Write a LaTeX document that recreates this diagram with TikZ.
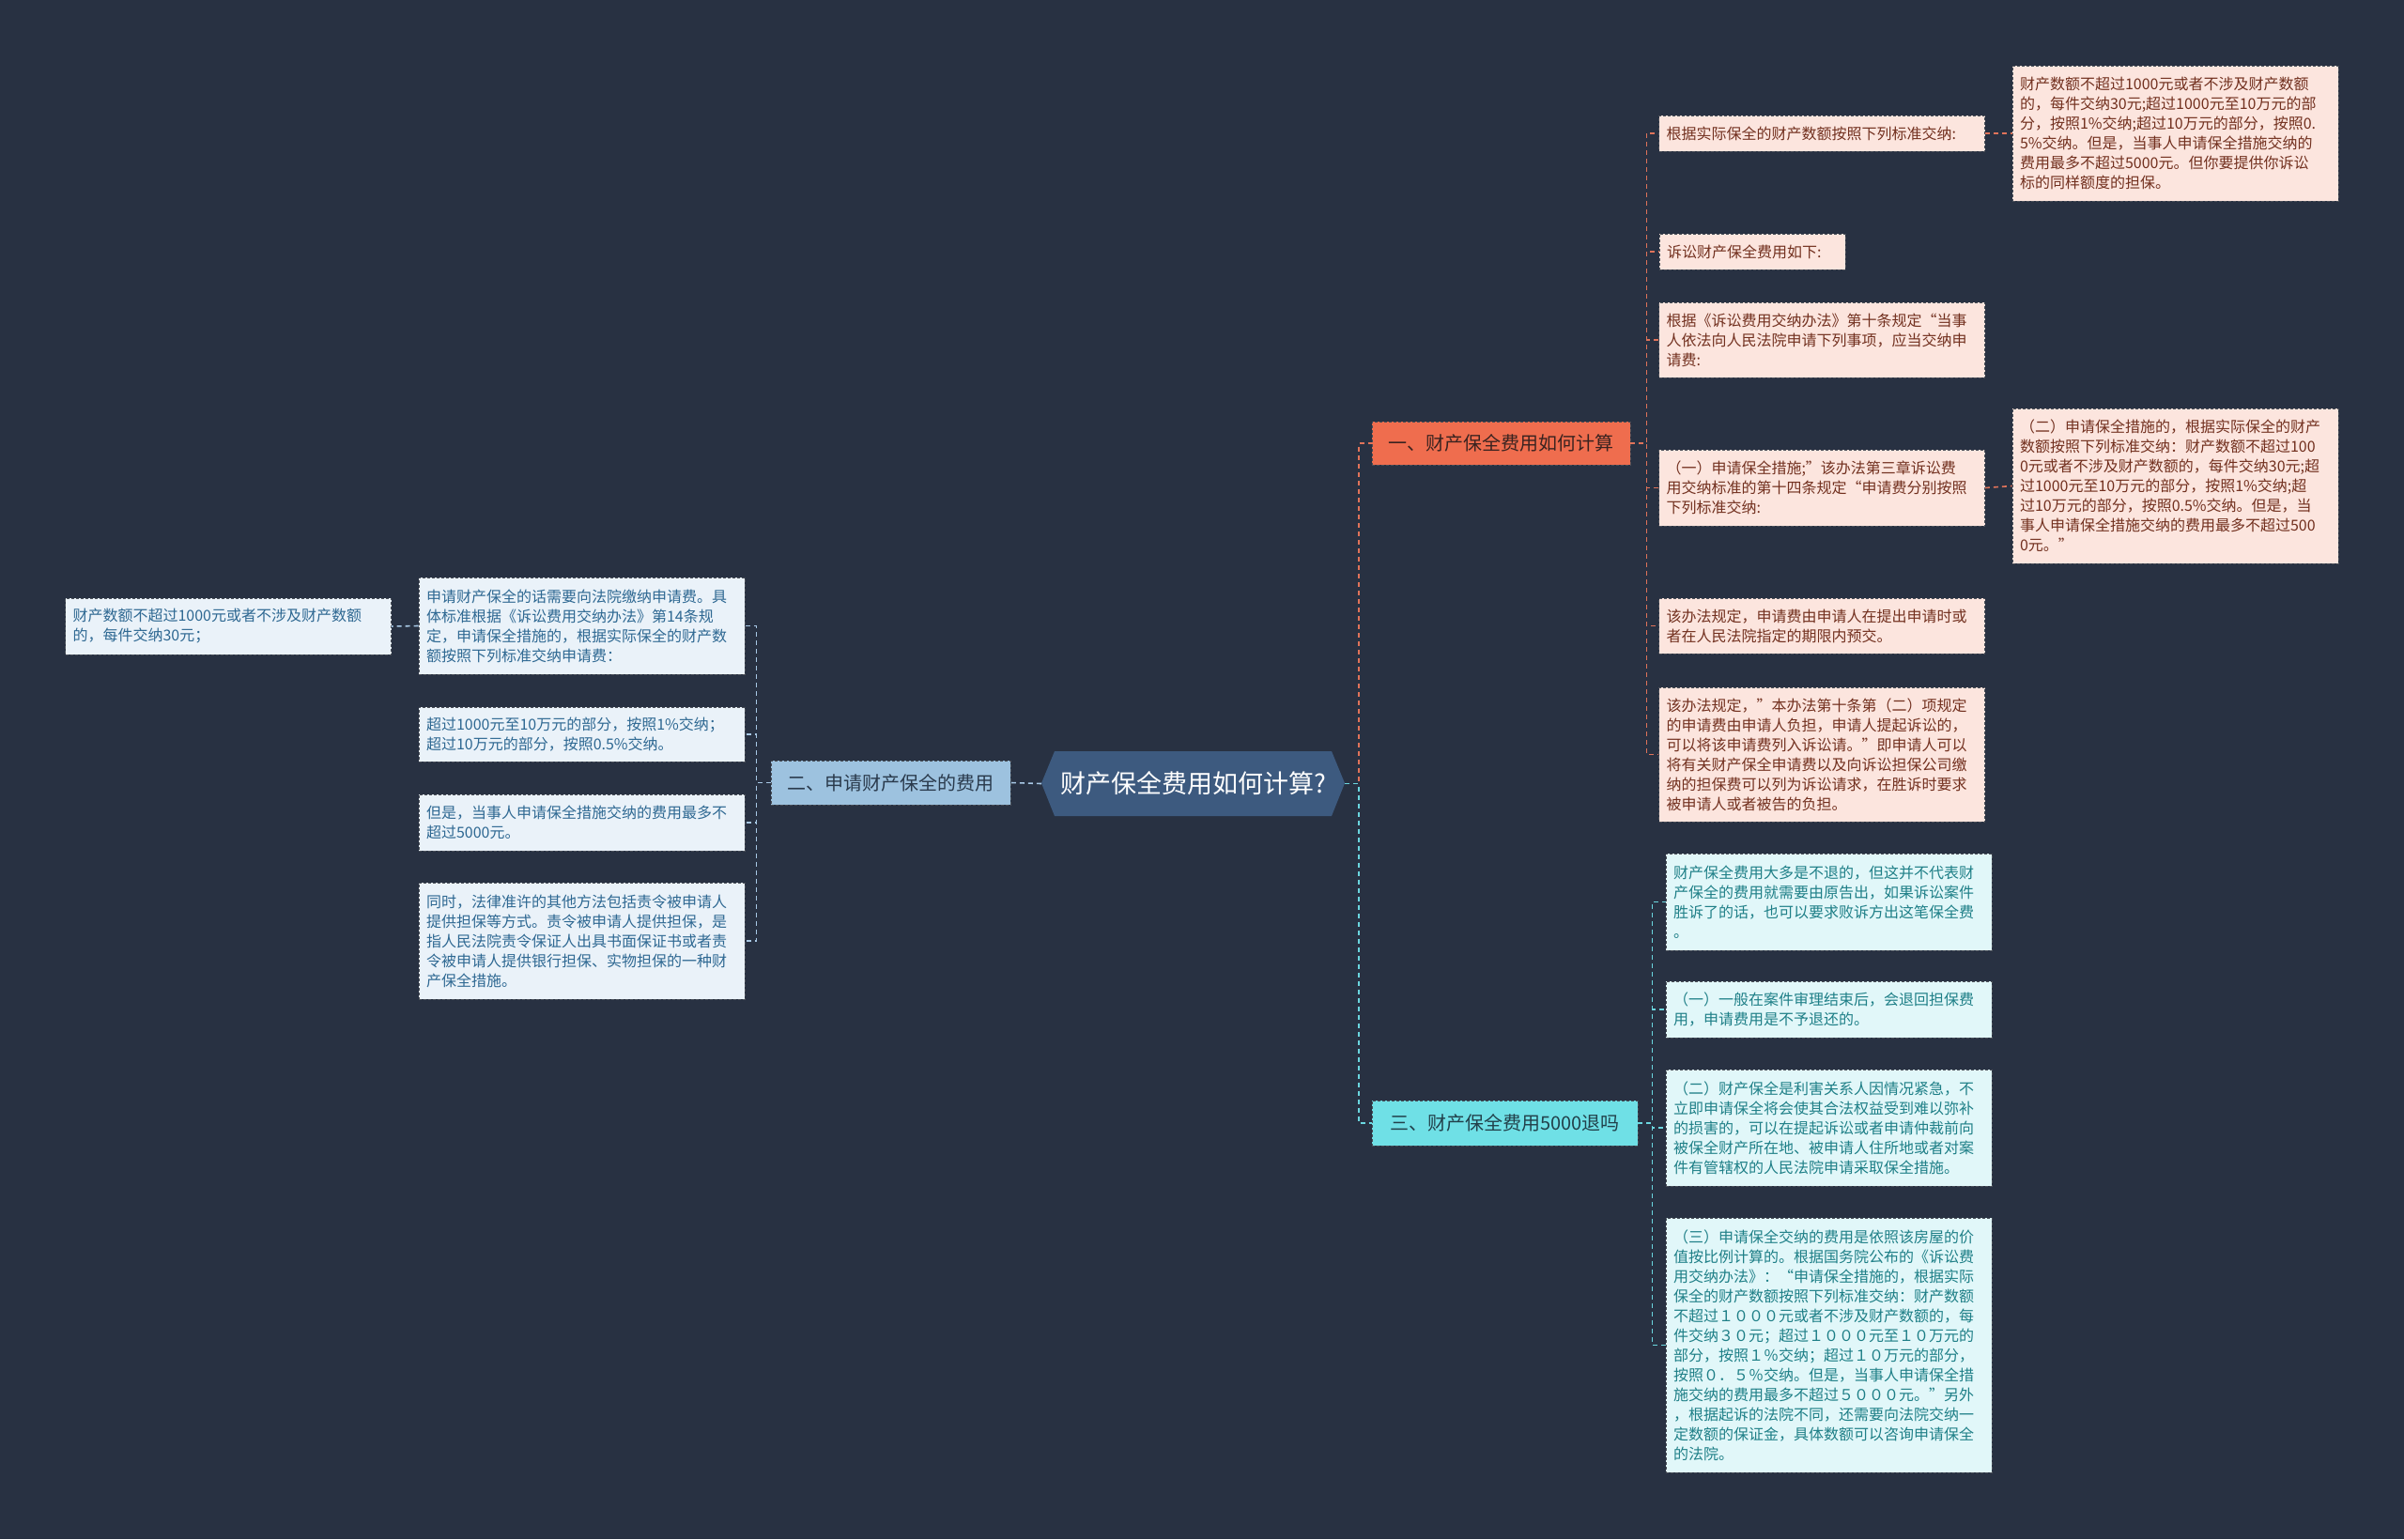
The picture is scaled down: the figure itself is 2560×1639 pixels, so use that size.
\documentclass[tikz,border=0pt]{standalone}
\usepackage{fontspec}
\setmainfont{Noto Sans CJK SC}
\definecolor{bg}{HTML}{283142}
\definecolor{rootfill}{HTML}{3D5A7F}
\definecolor{onefill}{HTML}{EF6D4E}
\definecolor{onetext}{HTML}{3A2320}
\definecolor{twofill}{HTML}{9DC2DF}
\definecolor{twotext}{HTML}{2A3A4C}
\definecolor{threefill}{HTML}{6FE0E6}
\definecolor{threetext}{HTML}{22404A}
\definecolor{pinkfill}{HTML}{FCE5DE}
\definecolor{pinktext}{HTML}{72301F}
\definecolor{cyanfill}{HTML}{E1F7F9}
\definecolor{cyantext}{HTML}{1E7F87}
\definecolor{bluefill}{HTML}{EAF2F9}
\definecolor{bluetext}{HTML}{2E6892}
\definecolor{boxedge}{HTML}{4A4F58}
\definecolor{orangeline}{HTML}{E0735A}
\definecolor{cyanline}{HTML}{6BD6DF}
\definecolor{blueline}{HTML}{A9C9E6}
\begin{document}
\begin{tikzpicture}[x=1pt,y=-1pt,
  leaf/.style={rectangle, draw=boxedge, dash pattern=on 3pt off 2pt, line width=0.8pt,
    font=\fontsize{16}{21}\selectfont, align=left, inner xsep=8pt, inner ysep=0pt,
    text width=331pt},
  pinkbox/.style={leaf, fill=pinkfill, text=pinktext},
  cyanbox/.style={leaf, fill=cyanfill, text=cyantext},
  bluebox/.style={leaf, fill=bluefill, text=bluetext},
  lone/.style={rectangle, draw=boxedge, dash pattern=on 3pt off 2pt, line width=0.8pt,
    font=\fontsize{20}{24}\selectfont, inner sep=0pt},
  link/.style={line width=1.6pt, dash pattern=on 5pt off 4pt}]
\fill[bg] (0,0) rectangle (2560,1639);
\useasboundingbox (0,0) rectangle (2560,1639);
% root
\fill[rootfill] (1109,834) -- (1123,800) -- (1418,800) -- (1432,834) -- (1418,869) -- (1123,869) -- cycle;
\node[minimum width=323pt, minimum height=69pt, inner sep=0pt, text=white, font=\fontsize{27}{30}\selectfont] (root) at (1270.5,834.5) {财产保全费用如何计算?};
% level 1
\node[lone, fill=onefill, text=onetext, minimum width=275pt, minimum height=46pt] (one) at (1598.5,472) {一、财产保全费用如何计算};
\node[lone, fill=twofill, text=twotext, minimum width=255pt, minimum height=47pt] (two) at (948.5,833.5) {二、申请财产保全的费用};
\node[lone, fill=threefill, text=threetext, minimum width=283pt, minimum height=48pt] (three) at (1602.5,1196) {三、财产保全费用5000退吗};
% pink column
\node[pinkbox, minimum height=38pt] (a1) at (1940,142) {根据实际保全的财产数额按照下列标准交纳:};
\node[pinkbox, text width=182pt, minimum height=38pt] (a2) at (1866,268) {诉讼财产保全费用如下:};
\node[pinkbox, minimum height=80pt] (a3) at (1940,362) {根据《诉讼费用交纳办法》第十条规定“当事\\人依法向人民法院申请下列事项，应当交纳申\\请费:};
\node[pinkbox, minimum height=81pt] (a4) at (1940,519.5) {（一）申请保全措施;”该办法第三章诉讼费\\用交纳标准的第十四条规定“申请费分别按照\\下列标准交纳:};
\node[pinkbox, minimum height=59pt] (a5) at (1940,666.5) {该办法规定，申请费由申请人在提出申请时或\\者在人民法院指定的期限内预交。};
\node[pinkbox, minimum height=143pt] (a6) at (1940,803.5) {该办法规定，"本办法第十条第（二）项规定\\的申请费由申请人负担，申请人提起诉讼的，\\可以将该申请费列入诉讼请。"即申请人可以\\将有关财产保全申请费以及向诉讼担保公司缴\\纳的担保费可以列为诉讼请求，在胜诉时要求\\被申请人或者被告的负担。};
\node[pinkbox, minimum height=144pt] (b1) at (2316.5,142) {财产数额不超过1000元或者不涉及财产数额\\的，每件交纳30元;超过1000元至10万元的部\\分，按照1\%交纳;超过10万元的部分，按照0.\\5\%交纳。但是，当事人申请保全措施交纳的\\费用最多不超过5000元。但你要提供你诉讼\\标的同样额度的担保。};
\node[pinkbox, minimum height=165pt] (b2) at (2316.5,517.5) {（二）申请保全措施的，根据实际保全的财产\\数额按照下列标准交纳：财产数额不超过100\\0元或者不涉及财产数额的，每件交纳30元;超\\过1000元至10万元的部分，按照1\%交纳;超\\过10万元的部分，按照0.5\%交纳。但是，当\\事人申请保全措施交纳的费用最多不超过500\\0元。”};
% cyan column
\node[cyanbox, minimum height=103pt] (c1) at (1947.5,960.5) {财产保全费用大多是不退的，但这并不代表财\\产保全的费用就需要由原告出，如果诉讼案件\\胜诉了的话，也可以要求败诉方出这笔保全费\\。};
\node[cyanbox, minimum height=60pt] (c2) at (1947.5,1075) {（一）一般在案件审理结束后，会退回担保费\\用，申请费用是不予退还的。};
\node[cyanbox, minimum height=124pt] (c3) at (1947.5,1201) {（二）财产保全是利害关系人因情况紧急，不\\立即申请保全将会使其合法权益受到难以弥补\\的损害的，可以在提起诉讼或者申请仲裁前向\\被保全财产所在地、被申请人住所地或者对案\\件有管辖权的人民法院申请采取保全措施。};
\node[cyanbox, minimum height=271pt] (c4) at (1947.5,1432.5) {（三）申请保全交纳的费用是依照该房屋的价\\值按比例计算的。根据国务院公布的《诉讼费\\用交纳办法》：“申请保全措施的，根据实际\\保全的财产数额按照下列标准交纳：财产数额\\不超过１０００元或者不涉及财产数额的，每\\件交纳３０元；超过１０００元至１０万元的\\部分，按照１％交纳；超过１０万元的部分，\\按照０．５％交纳。但是，当事人申请保全措\\施交纳的费用最多不超过５０００元。”另外\\，根据起诉的法院不同，还需要向法院交纳一\\定数额的保证金，具体数额可以咨询申请保全\\的法院。};
% blue column
\node[bluebox, minimum height=103pt] (d1) at (619.5,666.5) {申请财产保全的话需要向法院缴纳申请费。具\\体标准根据《诉讼费用交纳办法》第14条规\\定，申请保全措施的，根据实际保全的财产数\\额按照下列标准交纳申请费：};
\node[bluebox, minimum height=58pt] (d2) at (619.5,782) {超过1000元至10万元的部分，按照1\%交纳；\\超过10万元的部分，按照0.5\%交纳。};
\node[bluebox, minimum height=60pt] (d3) at (619.5,876) {但是，当事人申请保全措施交纳的费用最多不\\超过5000元。};
\node[bluebox, minimum height=124pt] (d4) at (619.5,1002) {同时，法律准许的其他方法包括责令被申请人\\提供担保等方式。责令被申请人提供担保，是\\指人民法院责令保证人出具书面保证书或者责\\令被申请人提供银行担保、实物担保的一种财\\产保全措施。};
\node[bluebox, minimum height=60pt] (e1) at (243,667) {财产数额不超过1000元或者不涉及财产数额\\的，每件交纳30元；};
% connectors
\draw[link, draw=orangeline] (root.east) -- ++(15,0) |- (one.west);
\draw[link, draw=cyanline] (root.east) -- ++(15,0) |- (three.west);
\draw[link, draw=blueline] (root.west) -- (two.east);
\foreach \n in {a1,a2,a3,a4,a5,a6}
  \draw[link, draw=orangeline] (one.east) -- ++(17,0) |- (\n.west);
\draw[link, draw=orangeline] (a1.east) -- (b1.west);
\draw[link, draw=orangeline] (a4.east) -- (b2.west);
\foreach \n in {c1,c2,c3,c4}
  \draw[link, draw=cyanline] (three.east) -- ++(15,0) |- (\n.west);
\foreach \n in {d1,d2,d3,d4}
  \draw[link, draw=blueline] (two.west) -- ++(-15,0) |- (\n.east);
\draw[link, draw=blueline] (d1.west) -- (e1.east);
\end{tikzpicture}
\end{document}
